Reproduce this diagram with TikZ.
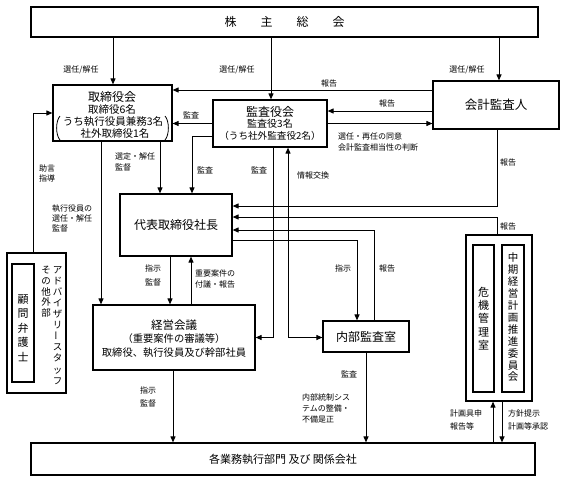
\documentclass[tikz,border=0pt]{standalone}
\usepackage{fontspec}
\setmainfont{Noto Sans CJK JP}
\usetikzlibrary{arrows.meta}
\newcommand{\vbar}{\smash{\raisebox{-0.1em}{\rotatebox{90}{ー}}}}
\begin{document}
\begin{tikzpicture}[x=1pt,y=-1pt,
  box/.style={draw, line width=1.2pt, inner sep=0pt, align=center},
  txt/.style={inner sep=0pt, align=center},
  lab/.style={inner sep=0pt, align=left, font=\fontsize{8}{11}\selectfont},
  vtext/.style={inner sep=0pt, align=center},
  conn/.style={line width=1pt, -{Triangle[length=6pt,width=5pt]}},
  conn2/.style={line width=1pt, {Triangle[length=6pt,width=5pt]}-{Triangle[length=6pt,width=5pt]}},
  brk/.style={line width=0.8pt}
]
\useasboundingbox (0,0) rectangle (567,483);

% ---------- boxes ----------
\node[box, minimum width=507pt, minimum height=30pt, font=\fontsize{12}{14}\selectfont] (kabu) at (284.5,22)
  {株\hspace{24pt}主\hspace{24pt}総\hspace{24pt}会};
\node[box, minimum width=119pt, minimum height=56pt] (tori) at (112.5,113) {};
\node[box, minimum width=114pt, minimum height=47pt] (kansa) at (270,123.5) {};
\node[box, minimum width=126pt, minimum height=48pt, font=\fontsize{12.5}{14}\selectfont] (kaikei) at (496,105) {会計監査人};
\node[box, minimum width=112pt, minimum height=62pt, font=\fontsize{12}{14}\selectfont] (daihyo) at (176,225) {代表取締役社長};
\node[box, minimum width=162pt, minimum height=65pt] (keiei) at (174,337.5) {};
\node[box, minimum width=86pt, minimum height=31pt, font=\fontsize{12}{14}\selectfont] (naibu) at (366,336.5) {内部監査室};
\node[box, minimum width=504pt, minimum height=32pt, font=\fontsize{11}{13}\selectfont] (kaku) at (283,459) {各業務執行部門 及び 関係会社};
\node[box, minimum width=66pt, minimum height=166pt] (kikiO) at (499,318) {};
\node[box, minimum width=21pt, minimum height=147pt] (kikiA) at (483.5,318.5) {};
\node[box, minimum width=22pt, minimum height=147pt] (kikiB) at (513,318.5) {};
\node[box, minimum width=59pt, minimum height=140pt] (advO) at (36.5,323) {};
\node[box, minimum width=22pt, minimum height=118pt] (advA) at (23,323) {};

% ---------- box texts ----------
\node[txt, font=\fontsize{12}{14}\selectfont] (toriT) at (112,97) {取締役会};
\node[txt, font=\fontsize{10.5}{12}\selectfont] (toriL1) at (112,109) {取締役6名};
\node[txt, font=\fontsize{10.5}{12}\selectfont] (toriL2) at (113,122) {うち執行役員兼務3名};
\node[txt, font=\fontsize{10.5}{12}\selectfont] (toriL3) at (115,133.5) {社外取締役1名};
\draw[brk] (60,116) .. controls (55.5,121) and (55.5,135) .. (60,140);
\draw[brk] (165,116) .. controls (169.5,121) and (169.5,135) .. (165,140);

\node[txt, font=\fontsize{12}{14}\selectfont] (kansaT) at (270,111.5) {監査役会};
\node[txt, font=\fontsize{10}{12}\selectfont] (kansaL1) at (270,123.5) {監査役3名};
\node[txt, font=\fontsize{9.6}{12}\selectfont] (kansaL2) at (270,136) {（うち社外監査役2名）};

\node[txt, font=\fontsize{11.5}{14}\selectfont] (keieiT) at (174,325) {経営会議};
\node[txt, font=\fontsize{10.3}{14}\selectfont] (keieiL1) at (174,339) {（重要案件の審議等）};
\node[txt, font=\fontsize{10.3}{14}\selectfont] (keieiL2) at (174,353) {取締役、執行役員及び幹部社員};

\node[vtext, font=\fontsize{11}{13.3}\selectfont] (kikiAT) at (483.5,318.5) {危\\機\\管\\理\\室};
\node[vtext, font=\fontsize{10.5}{11.9}\selectfont] (kikiBT) at (513,317.5) {中\\期\\経\\営\\計\\画\\推\\進\\委\\員\\会};
\node[vtext, font=\fontsize{11}{14.5}\selectfont] (advAT) at (23,328) {顧\\問\\弁\\護\\士};
\node[vtext, font=\fontsize{9.5}{10.8}\selectfont, anchor=north] (advT1) at (46,266) {そ\\の\\他\\外\\部};
\node[vtext, font=\fontsize{9.5}{11.1}\selectfont, anchor=north] (advT2) at (57.5,266)
  {ア\\ド\\バ\\イ\\ザ\\リ\\\vbar\\ス\\タ\\ッ\\フ};

% ---------- helper coordinates ----------
\coordinate (c1) at (101,0);
\coordinate (c2) at (160,0);
\coordinate (c3) at (192,0);
\coordinate (c4) at (273,0);
\coordinate (c5) at (288,0);
\coordinate (c6) at (497,0);
\coordinate (c7) at (374,0);
\coordinate (c8) at (357,0);
\coordinate (c9) at (170,0);
\coordinate (c10) at (191,0);
\coordinate (c11) at (33,0);
\coordinate (c12) at (173,0);
\coordinate (c13) at (366,0);
\coordinate (c14) at (493,0);
\coordinate (c15) at (502,0);
\coordinate (c16) at (499,0);
\coordinate (c17) at (113,0);
\coordinate (c18) at (271,0);
\coordinate (r1) at (0,90);
\coordinate (r2) at (0,111);
\coordinate (r3) at (0,123.5);
\coordinate (r5) at (0,136);
\coordinate (r6) at (0,206);
\coordinate (r7) at (0,217);
\coordinate (r8) at (0,230);
\coordinate (r9) at (0,240);
\coordinate (r10) at (0,337.5);
\coordinate (r12) at (0,113);

% ---------- connectors ----------
\draw[conn] (kabu.south -| c17) -- (tori.north -| c17);
\draw[conn] (kabu.south -| c18) -- (kansa.north -| c18);
\draw[conn] (kabu.south -| c16) -- (kaikei.north -| c16);
\draw[conn] (kaikei.west |- r1) -- (tori.east |- r1);
\draw[conn] (kaikei.west |- r2) -- (kansa.east |- r2);
\draw[conn] (kansa.east |- r3) -- (kaikei.west |- r3);
\draw[conn] (kansa.west |- r3) -- (tori.east |- r3);
\draw[conn] (tori.south -| c1) -- (keiei.north -| c1);
\draw[conn] (tori.south -| c2) -- (daihyo.north -| c2);
\draw[conn] (kansa.west |- r5) -| (daihyo.north -| c3);
\draw[conn] (kansa.south -| c4) |- (keiei.east |- r10);
\draw[conn2] (kansa.south -| c5) |- (naibu.west |- r10);
\draw[conn] (kaikei.south -| c6) |- (daihyo.east |- r6);
\draw[conn] (kikiO.north -| c6) |- (daihyo.east |- r7);
\draw[conn] (naibu.north -| c7) |- (daihyo.east |- r8);
\draw[conn] (daihyo.east |- r9) -| (naibu.north -| c8);
\draw[conn] (daihyo.south -| c9) -- (keiei.north -| c9);
\draw[conn] (keiei.north -| c10) -- (daihyo.south -| c10);
\draw[conn] (advO.north -| c11) |- (tori.west |- r12);
\draw[conn] (keiei.south -| c12) -- (kaku.north -| c12);
\draw[conn] (naibu.south -| c13) -- (kaku.north -| c13);
\draw[conn] (kaku.north -| c14) -- (kikiO.south -| c14);
\draw[conn] (kikiO.south -| c15) -- (kaku.north -| c15);

% ---------- labels ----------
\node[lab] (l1) at (81,70) {選任/解任};
\node[lab] (l2) at (237,70) {選任/解任};
\node[lab] (l3) at (467,70) {選任/解任};
\node[lab] (l4) at (329,83) {報告};
\node[lab] (l5) at (387,103) {報告};
\node[lab] (l6) at (191,115) {監査};
\node[lab, anchor=west, font=\fontsize{8}{11}\selectfont] (l7) at (338,141.5) {選任・再任の同意\\会計監査相当性の判断};
\node[lab, anchor=west] (l8) at (115,161.5) {選定・解任\\監督};
\node[lab] (l9) at (205,170) {監査};
\node[lab] (l10) at (259,170) {監査};
\node[lab] (l11) at (313,175) {情報交換};
\node[lab] (l12) at (508,162) {報告};
\node[lab] (l13) at (508,226) {報告};
\node[lab] (l14) at (387,268) {報告};
\node[lab] (l15) at (343,268) {指示};
\node[lab, align=center, font=\fontsize{8}{14}\selectfont] (l16) at (153,275.5) {指示\\監督};
\node[lab, anchor=west] (l17) at (195,278.5) {重要案件の\\付議・報告};
\node[lab, anchor=west, font=\fontsize{8}{10}\selectfont] (l18) at (39,173) {助言\\指導};
\node[lab, anchor=west, font=\fontsize{8}{10}\selectfont] (l19) at (52,218) {執行役員の\\選任・解任\\監督};
\node[lab, align=center, font=\fontsize{8}{13}\selectfont] (l20) at (148,396.5) {指示\\監督};
\node[lab] (l21) at (349,374) {監査};
\node[lab, anchor=west] (l22) at (302,408) {内部統制シス\\テムの整備・\\不備是正};
\node[lab, anchor=west, font=\fontsize{8}{13}\selectfont] (l23) at (450,419.5) {計画具申\\報告等};
\node[lab, anchor=west, font=\fontsize{8}{13}\selectfont] (l24) at (508,419.5) {方針提示\\計画等承認};
\end{tikzpicture}
\end{document}
